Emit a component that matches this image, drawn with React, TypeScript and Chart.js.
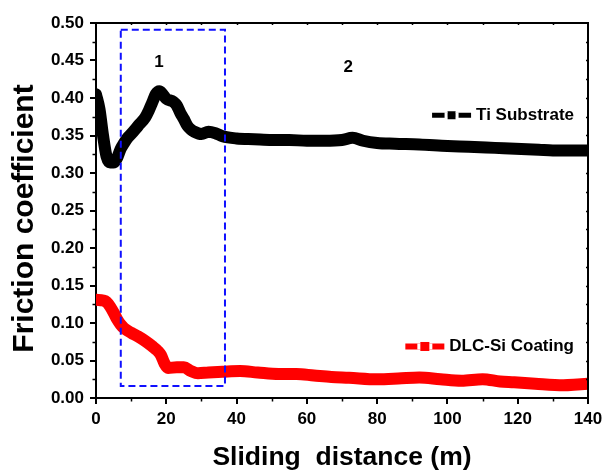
import React, { useEffect, useRef } from "react";
import { Chart, registerables } from "chart.js";

Chart.register(...registerables);

// ---- data ----
const tiX = [0, 1, 2, 3, 4, 5, 6, 7, 8, 9, 10, 12, 14, 15, 16, 17, 18, 19, 20, 22, 23, 24, 25, 26, 27, 28, 30, 32, 34, 36, 40, 45, 50, 55, 60, 65, 70, 73, 76, 80, 85, 92, 100, 106, 111, 116, 121, 126, 130, 135, 140];
const tiY = [0.405, 0.385, 0.35, 0.322, 0.314, 0.314, 0.32, 0.332, 0.34, 0.347, 0.352, 0.363, 0.374, 0.383, 0.394, 0.405, 0.409, 0.405, 0.399, 0.395, 0.39, 0.38, 0.372, 0.363, 0.358, 0.355, 0.352, 0.355, 0.353, 0.349, 0.346, 0.345, 0.344, 0.344, 0.343, 0.343, 0.344, 0.347, 0.343, 0.34, 0.339, 0.338, 0.336, 0.335, 0.334, 0.333, 0.332, 0.331, 0.33, 0.33, 0.33];

const dlcX = [0, 2, 3, 4, 5, 6, 7, 8, 10, 12, 14, 16, 17.5, 18.5, 19.5, 20.5, 23, 25, 27, 29, 32, 36, 41, 46, 52, 57, 62, 67, 72, 80, 86, 92, 98, 104, 110, 115, 119, 125, 133, 137, 140];
const dlcY = [0.131, 0.13, 0.128, 0.122, 0.114, 0.105, 0.098, 0.093, 0.087, 0.082, 0.076, 0.069, 0.063, 0.057, 0.046, 0.04, 0.041, 0.041, 0.036, 0.033, 0.034, 0.035, 0.036, 0.034, 0.032, 0.032, 0.03, 0.028, 0.027, 0.025, 0.026, 0.0275, 0.025, 0.023, 0.025, 0.022, 0.021, 0.019, 0.017, 0.018, 0.019];

const boxX = [7.05, 36.7, 36.7, 7.05, 7.05];
const boxY = [0.491, 0.491, 0.016, 0.016, 0.491];

const regionLabels = ["1", "2"];
const regionX = [17.9, 71.8];
const regionY = [0.447, 0.441];

const seriesNames = ["Ti Substrate", "DLC-Si Coating"];
const seriesColors = ["#000000", "#ff0000"];
const legendY = [0.377, 0.0687];

const xMin = 0, xMax = 140, xStep = 20, xMinorStep = 10;
const yMin = 0, yMax = 0.5, yStep = 0.05, yMinorStep = 0.025;

const xTitle = "Sliding  distance (m)";
const yTitle = "Friction coefficient";

const FONT = "'Liberation Sans', Arial, sans-serif";

const toPts = (xs: number[], ys: number[]) => xs.map((x, i) => ({ x, y: ys[i] }));

const decorPlugin = {
  id: "decor",
  afterDraw(chart: any) {
    const ctx = chart.ctx;
    const xs = chart.scales.x;
    const ys = chart.scales.y;
    const area = chart.chartArea;
    ctx.save();
    // frame top & right
    ctx.strokeStyle = "#000";
    ctx.lineWidth = 2;
    ctx.beginPath();
    ctx.moveTo(area.left, area.top);
    ctx.lineTo(area.right, area.top);
    ctx.lineTo(area.right, area.bottom);
    ctx.stroke();
    // minor ticks outward (left/bottom)
    ctx.lineWidth = 1.5;
    ctx.beginPath();
    for (let v = xMin + xMinorStep; v < xMax; v += xStep) {
      const px = Math.round(xs.getPixelForValue(v)) + 0.5;
      ctx.moveTo(px, area.bottom);
      ctx.lineTo(px, area.bottom + 3.5);
    }
    for (let v = yMin + yMinorStep; v < yMax; v += yStep) {
      const py = Math.round(ys.getPixelForValue(v)) + 0.5;
      ctx.moveTo(area.left, py);
      ctx.lineTo(area.left - 3.5, py);
    }
    // inward small ticks top/right
    for (let v = xMin + xMinorStep; v < xMax; v += xMinorStep) {
      const px = Math.round(xs.getPixelForValue(v)) + 0.5;
      ctx.moveTo(px, area.top);
      ctx.lineTo(px, area.top + 2);
    }
    for (let v = yMin + yMinorStep; v < yMax - 1e-9; v += yMinorStep) {
      const py = Math.round(ys.getPixelForValue(v)) + 0.5;
      ctx.moveTo(area.right, py);
      ctx.lineTo(area.right - 2, py);
    }
    ctx.stroke();

    // y axis title
    ctx.fillStyle = "#000";
    ctx.font = `bold 30px ${FONT}`;
    ctx.textAlign = "center";
    ctx.textBaseline = "middle";
    ctx.save();
    ctx.translate(25, (area.top + area.bottom) / 2 + 8);
    ctx.rotate(-Math.PI / 2);
    ctx.fillText(yTitle, 0, 0);
    ctx.restore();

    // region labels
    ctx.font = `bold 17px ${FONT}`;
    regionLabels.forEach((t, i) => {
      ctx.fillText(t, xs.getPixelForValue(regionX[i]), ys.getPixelForValue(regionY[i]));
    });

    // legend
    ctx.textAlign = "right";
    const textRight = area.right - 14;
    seriesNames.forEach((name, i) => {
      const py = ys.getPixelForValue(legendY[i]);
      ctx.fillStyle = "#000";
      ctx.fillText(name, textRight, py);
      const w = ctx.measureText(name).width;
      const symRight = textRight - w - 5;
      const symLeft = symRight - 39;
      const mid = (symLeft + symRight) / 2;
      ctx.strokeStyle = seriesColors[i];
      ctx.fillStyle = seriesColors[i];
      ctx.lineWidth = i === 0 ? 5 : 6;
      ctx.beginPath();
      ctx.moveTo(symLeft, py);
      ctx.lineTo(symRight, py);
      ctx.stroke();
      const s = i === 0 ? 8 : 9;
      ctx.fillRect(mid - s / 2, py - s / 2, s, s);
      ctx.fillStyle = "#fff";
      ctx.fillRect(mid - s / 2 - 3, py - 3, 3, 6);
      ctx.fillRect(mid + s / 2, py - 3, 3, 6);
    });
    ctx.restore();
  },
};

export default function App() {
  const ref = useRef<HTMLCanvasElement>(null);
  useEffect(() => {
    if (!ref.current) return;
    const chart = new Chart(ref.current, {
      type: "line",
      data: {
        datasets: [
          {
            label: "box",
            data: toPts(boxX, boxY),
            borderColor: "#1010ff",
            borderWidth: 2,
            borderDash: [7, 4],
            pointRadius: 0,
            fill: false,
            tension: 0,
          },
          {
            label: seriesNames[0],
            data: toPts(tiX, tiY),
            borderColor: seriesColors[0],
            borderWidth: 12,
            pointRadius: 0,
            fill: false,
            cubicInterpolationMode: "monotone",
            borderCapStyle: "round",
            borderJoinStyle: "round",
          },
          {
            label: seriesNames[1],
            data: toPts(dlcX, dlcY),
            borderColor: seriesColors[1],
            borderWidth: 12,
            pointRadius: 0,
            fill: false,
            cubicInterpolationMode: "monotone",
            borderCapStyle: "round",
            borderJoinStyle: "round",
          },
        ],
      },
      options: {
        responsive: false,
        animation: false,
        layout: { padding: { top: 23, right: 15, left: 0, bottom: 0 } },
        plugins: { legend: { display: false }, tooltip: { enabled: false } },
        scales: {
          x: {
            type: "linear",
            min: xMin,
            max: xMax,
            ticks: {
              stepSize: xStep,
              color: "#000",
              font: { family: FONT, weight: "bold", size: 17 },
              padding: 5,
              maxRotation: 0,
            },
            grid: { drawOnChartArea: false, drawTicks: true, tickLength: 6, color: "#000", lineWidth: 2 },
            border: { display: true, color: "#000", width: 2 },
            title: {
              display: true,
              text: xTitle,
              color: "#000",
              font: { family: FONT, weight: "bold", size: 26.5 },
              padding: { top: 0, bottom: -2 },
            },
            afterFit: (s: any) => {
              s.height = 74;
              s.paddingRight = 0;
              s.paddingLeft = 0;
            },
          },
          y: {
            type: "linear",
            min: yMin,
            max: yMax,
            ticks: {
              stepSize: yStep,
              color: "#000",
              font: { family: FONT, weight: "bold", size: 17 },
              padding: 6,
              callback: (v: any) => Number(v).toFixed(2),
            },
            grid: { drawOnChartArea: false, drawTicks: true, tickLength: 6, color: "#000", lineWidth: 2 },
            border: { display: true, color: "#000", width: 2 },
            title: { display: false, text: yTitle },
            afterFit: (s: any) => {
              s.width = 96;
              s.paddingTop = 0;
              s.paddingBottom = 0;
            },
          },
        },
      },
      plugins: [decorPlugin],
    } as any);
    return () => chart.destroy();
  }, []);
  return (
    <div style={{ position: "absolute", left: 0, top: 0, width: 603, height: 472, background: "#fff" }}>
      <canvas ref={ref} width={603} height={472} />
    </div>
  );
}
